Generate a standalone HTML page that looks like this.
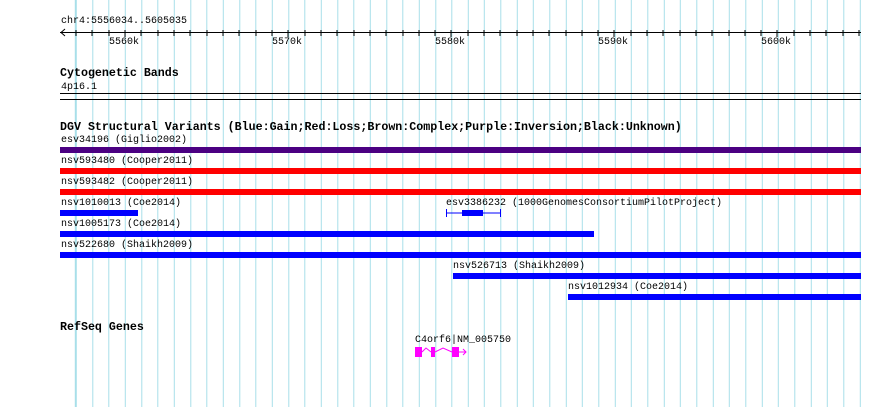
<!DOCTYPE html>
<html><head><meta charset="utf-8"><style>
body{margin:0;background:#fff;}
#w{position:relative;width:890px;height:407px;overflow:hidden;background:#fff;font-family:"Liberation Mono","DejaVu Sans Mono",monospace;}
#grid{position:absolute;left:60px;top:0;width:801px;height:407px;
background:repeating-linear-gradient(to right,#a8dfe9 0,#a8dfe9 1px,transparent 1px,transparent 16.33px);background-position:15.8px 0;}
.t{position:absolute;font-size:10px;line-height:11px;color:#000;white-space:pre;}
.h{position:absolute;font-size:11.65px;line-height:12px;font-weight:bold;color:#000;white-space:pre;}
.b{position:absolute;height:6px;}
</style></head><body><div id="w">
<div id="grid"></div>
<svg width="890" height="407" style="position:absolute;left:0;top:0">
<line x1="60" y1="32.5" x2="861" y2="32.5" stroke="#000"/>
<polyline points="65,29 61,32.5 65,36" fill="none" stroke="#000"/>
<g stroke="#000">
<line x1="76" y1="30" x2="76" y2="36"/><line x1="92" y1="30" x2="92" y2="36"/><line x1="109" y1="30" x2="109" y2="36"/>
<line x1="125" y1="30" x2="125" y2="37"/><line x1="141" y1="30" x2="141" y2="36"/><line x1="158" y1="30" x2="158" y2="36"/>
<line x1="174" y1="30" x2="174" y2="36"/><line x1="190" y1="30" x2="190" y2="36"/><line x1="207" y1="30" x2="207" y2="36"/>
<line x1="223" y1="30" x2="223" y2="36"/><line x1="239" y1="30" x2="239" y2="36"/><line x1="256" y1="30" x2="256" y2="36"/>
<line x1="272" y1="30" x2="272" y2="36"/><line x1="288" y1="30" x2="288" y2="37"/><line x1="305" y1="30" x2="305" y2="36"/>
<line x1="321" y1="30" x2="321" y2="36"/><line x1="337" y1="30" x2="337" y2="36"/><line x1="354" y1="30" x2="354" y2="36"/>
<line x1="370" y1="30" x2="370" y2="36"/><line x1="386" y1="30" x2="386" y2="36"/><line x1="403" y1="30" x2="403" y2="36"/>
<line x1="419" y1="30" x2="419" y2="36"/><line x1="435" y1="30" x2="435" y2="36"/><line x1="451" y1="30" x2="451" y2="37"/>
<line x1="468" y1="30" x2="468" y2="36"/><line x1="484" y1="30" x2="484" y2="36"/><line x1="500" y1="30" x2="500" y2="36"/>
<line x1="517" y1="30" x2="517" y2="36"/><line x1="533" y1="30" x2="533" y2="36"/><line x1="549" y1="30" x2="549" y2="36"/>
<line x1="566" y1="30" x2="566" y2="36"/><line x1="582" y1="30" x2="582" y2="36"/><line x1="598" y1="30" x2="598" y2="36"/>
<line x1="614" y1="30" x2="614" y2="37"/><line x1="631" y1="30" x2="631" y2="36"/><line x1="647" y1="30" x2="647" y2="36"/>
<line x1="663" y1="30" x2="663" y2="36"/><line x1="680" y1="30" x2="680" y2="36"/><line x1="696" y1="30" x2="696" y2="36"/>
<line x1="712" y1="30" x2="712" y2="36"/><line x1="729" y1="30" x2="729" y2="36"/><line x1="745" y1="30" x2="745" y2="36"/>
<line x1="761" y1="30" x2="761" y2="36"/><line x1="777" y1="30" x2="777" y2="37"/><line x1="794" y1="30" x2="794" y2="36"/>
<line x1="810" y1="30" x2="810" y2="36"/><line x1="826" y1="30" x2="826" y2="36"/><line x1="843" y1="30" x2="843" y2="36"/>
<line x1="859" y1="30" x2="859" y2="36"/>
</g>
<line x1="60" y1="93.5" x2="861" y2="93.5" stroke="#000"/>
<line x1="60" y1="99.5" x2="861" y2="99.5" stroke="#000"/>
<line x1="446.5" y1="209" x2="446.5" y2="217" stroke="#0000ff"/>
<line x1="500.5" y1="209" x2="500.5" y2="217" stroke="#0000ff"/>
<line x1="446" y1="213" x2="500" y2="213" stroke="#0000ff"/>
<rect x="462" y="210" width="21" height="6" fill="#0000ff"/>
<g fill="#ff00ff" stroke="#ff00ff">
<rect x="415" y="347" width="7" height="10" stroke="none"/>
<rect x="431" y="347" width="4" height="10" stroke="none"/>
<rect x="452" y="347" width="7" height="10" stroke="none"/>
<polyline points="422,352 426,348 431,352" fill="none"/>
<polyline points="435,352 443,348 452,352" fill="none"/>
<line x1="459" y1="352" x2="466" y2="352"/>
<polyline points="463,349 466,352 463,355" fill="none"/>
</g>
</svg>
<div class="t" style="left:61px;top:16px">chr4:5556034..5605035</div>
<div class="t" style="left:109px;top:37px">5560k</div>
<div class="t" style="left:272px;top:37px">5570k</div>
<div class="t" style="left:435px;top:37px">5580k</div>
<div class="t" style="left:598px;top:37px">5590k</div>
<div class="t" style="left:761px;top:37px">5600k</div>
<div class="h" style="left:60px;top:68px">Cytogenetic Bands</div>
<div class="t" style="left:61px;top:82px">4p16.1</div>
<div class="h" style="left:60px;top:122px">DGV Structural Variants (Blue:Gain;Red:Loss;Brown:Complex;Purple:Inversion;Black:Unknown)</div>
<div class="t" style="left:61px;top:135px">esv34196 (Giglio2002)</div>
<div class="b" style="left:60px;top:147px;width:801px;background:#4b0082"></div>
<div class="t" style="left:61px;top:156px">nsv593480 (Cooper2011)</div>
<div class="b" style="left:60px;top:168px;width:801px;background:#ff0000"></div>
<div class="t" style="left:61px;top:177px">nsv593482 (Cooper2011)</div>
<div class="b" style="left:60px;top:189px;width:801px;background:#ff0000"></div>
<div class="t" style="left:61px;top:198px">nsv1010013 (Coe2014)</div>
<div class="b" style="left:60px;top:210px;width:78px;background:#0000ff"></div>
<div class="t" style="left:446px;top:198px">esv3386232 (1000GenomesConsortiumPilotProject)</div>
<div class="t" style="left:61px;top:219px">nsv1005173 (Coe2014)</div>
<div class="b" style="left:60px;top:231px;width:534px;background:#0000ff"></div>
<div class="t" style="left:61px;top:240px">nsv522680 (Shaikh2009)</div>
<div class="b" style="left:60px;top:252px;width:801px;background:#0000ff"></div>
<div class="t" style="left:453px;top:261px">nsv526713 (Shaikh2009)</div>
<div class="b" style="left:453px;top:273px;width:408px;background:#0000ff"></div>
<div class="t" style="left:568px;top:282px">nsv1012934 (Coe2014)</div>
<div class="b" style="left:568px;top:294px;width:293px;background:#0000ff"></div>
<div class="h" style="left:60px;top:322px">RefSeq Genes</div>
<div class="t" style="left:415px;top:335px">C4orf6|NM_005750</div>
</div></body></html>
